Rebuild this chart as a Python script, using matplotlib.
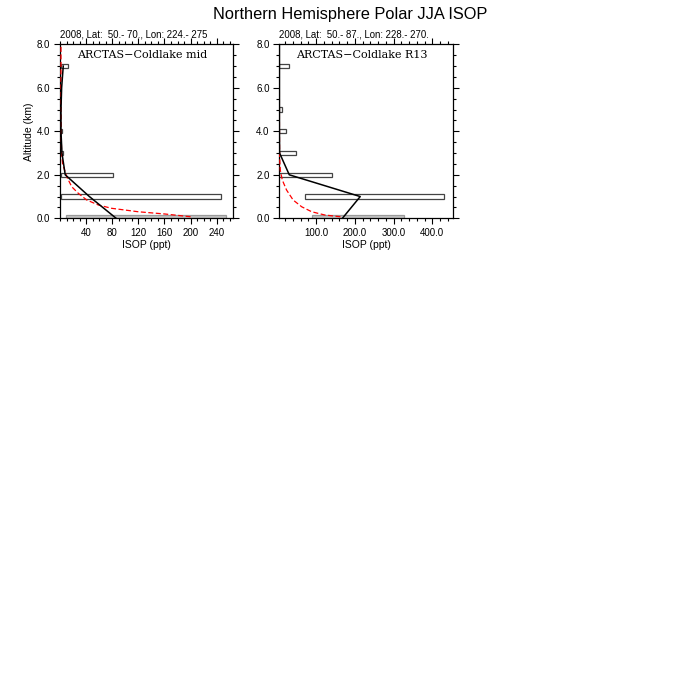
import matplotlib
matplotlib.use("Agg")
import matplotlib.pyplot as plt
from matplotlib.ticker import MultipleLocator, FixedLocator

plt.rcParams['font.family'] = ['Liberation Sans', 'DejaVu Sans']

title = "Northern Hemisphere Polar JJA ISOP"
subtitles = ["2008, Lat:  50.- 70., Lon: 224.- 275",
             "2008, Lat:  50.- 87., Lon: 228.- 270."]
labels = ["ARCTAS\u2212Coldlake mid", "ARCTAS\u2212Coldlake R13"]

# observation range bars (altitude km, low, high)
bar_alt_L = [0.0, 1.0, 2.0, 3.0, 4.0, 7.0]
bar_lo_L = [9.5, 1.8, 1.0, 0.5, 0.5, 2.0]
bar_hi_L = [254.0, 246.5, 80.5, 5.0, 3.0, 12.0]

bar_alt_R = [0.0, 1.0, 2.0, 3.0, 4.0, 5.0, 7.0]
bar_lo_R = [89.0, 72.0, 5.3, 5.3, 5.3, 5.3, 5.3]
bar_hi_R = [328.0, 431.0, 140.0, 47.5, 21.8, 11.5, 30.0]

# observed mean profile
obs_alt_L = [0.0, 1.0, 2.0, 3.0, 4.0, 5.0, 6.0, 7.0]
obs_val_L = [86.0, 45.0, 8.0, 3.0, 1.5, 1.5, 2.5, 5.0]
obs_alt_R = [0.0, 1.0, 2.0, 3.0, 4.0, 5.0, 6.0, 7.0, 8.0]
obs_val_R = [168.0, 214.0, 31.0, 6.0, 5.5, 5.5, 5.5, 5.5, 5.5]

# model profile
mod_alt_L = [0.07, 0.2, 0.3, 0.46, 0.61, 0.84, 1.15, 1.45, 1.9, 2.5, 3.0, 4.0, 5.0, 6.0, 7.0, 8.0]
mod_val_L = [200.0, 160.0, 120.0, 79.0, 59.0, 41.0, 28.0, 18.0, 10.5, 4.0, 2.5, 1.8, 1.5, 1.5, 1.5, 1.5]
mod_alt_R = [0.07, 0.15, 0.3, 0.53, 0.84, 1.3, 1.76, 2.2, 2.8, 3.5, 4.5, 6.0, 8.0]
mod_val_R = [163.0, 123.0, 89.0, 63.0, 41.0, 24.0, 13.0, 8.0, 6.2, 5.8, 5.6, 5.5, 5.5]

xlims = [(0, 264.5), (5.3, 454)]
xmajor = [[40, 80, 120, 160, 200, 240], [100, 200, 300, 400]]
xmajor_lbl = [["40", "80", "120", "160", "200", "240"], ["100.0", "200.0", "300.0", "400.0"]]
xminor = [10, 20]

fig = plt.figure(figsize=(7, 7), dpi=100)
fig.text(0.5, 0.98, title, ha='center', va='center', fontsize=11.8)

positions = [[60/700, 1-218.3/700, 172.7/700, 174/700],
             [279.3/700, 1-218.3/700, 174/700, 174/700]]
data = [(bar_alt_L, bar_lo_L, bar_hi_L, obs_alt_L, obs_val_L, mod_alt_L, mod_val_L),
        (bar_alt_R, bar_lo_R, bar_hi_R, obs_alt_R, obs_val_R, mod_alt_R, mod_val_R)]

for i, pos in enumerate(positions):
    ax = fig.add_axes(pos)
    balt, blo, bhi, oalt, oval, malt, mval = data[i]
    for a, lo, hi in zip(balt, blo, bhi):
        if a == 0.0:
            ax.barh(a, hi - lo, left=lo, height=0.26, color='#c4c4c4',
                    edgecolor='#9a9a9a', linewidth=0.9, zorder=2)
        else:
            ax.barh(a, hi - lo, left=lo, height=0.2, color='white',
                    edgecolor='#444444', linewidth=0.9, zorder=2)
    ax.plot(oval, oalt, color='black', lw=1.1, zorder=4)
    ax.plot(mval, malt, color='red', lw=0.9, ls=(0, (4, 2)), zorder=3)
    ax.set_xlim(*xlims[i])
    ax.set_ylim(0, 8)
    ax.xaxis.set_major_locator(FixedLocator(xmajor[i]))
    ax.set_xticklabels(xmajor_lbl[i])
    ax.xaxis.set_minor_locator(MultipleLocator(xminor[i]))
    ax.yaxis.set_minor_locator(MultipleLocator(0.5))
    ax.set_yticks([0, 2, 4, 6, 8])
    ax.set_yticklabels(["0.0", "2.0", "4.0", "6.0", "8.0"])
    ax.tick_params(which='both', direction='out', top=True, right=True,
                   labelsize=7, pad=3, width=0.8)
    ax.tick_params(which='major', length=4)
    ax.tick_params(which='minor', length=2)
    for s in ax.spines.values():
        s.set_linewidth(0.9)
    ax.set_xlabel("ISOP (ppt)", fontsize=7.5, labelpad=1.5)
    if i == 0:
        ax.set_ylabel("Altitude (km)", fontsize=7.5, labelpad=2)
    ax.text(0.0, 1.025, subtitles[i], transform=ax.transAxes, ha='left',
            va='bottom', fontsize=6.9)
    ax.text(0.097, 0.938, labels[i], transform=ax.transAxes, ha='left',
            va='center', fontsize=8, family=['DejaVu Serif'])

fig.savefig("out.png", dpi=100)
